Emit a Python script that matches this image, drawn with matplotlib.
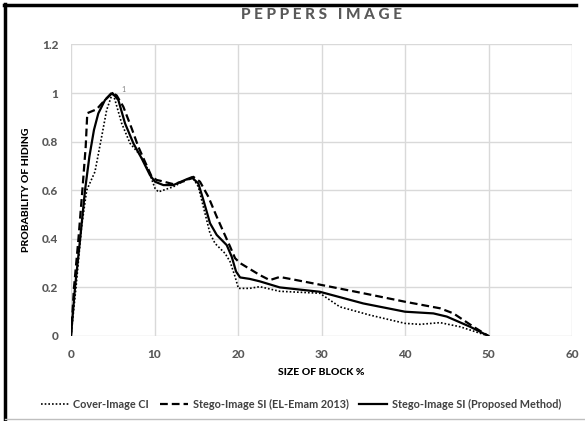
import matplotlib
matplotlib.use("Agg")
import matplotlib.pyplot as plt
from matplotlib.lines import Line2D

plt.rcParams['font.family'] = ['Lato', 'DejaVu Sans']

# ---- data ----
cover_x = [0, 0.6, 1.27, 1.88, 2.87, 3.67, 4.27, 4.87, 5.0, 5.27, 6.07, 7.07, 8.26, 9.26,
           10.06, 10.46, 12.25, 13.8, 14.65, 15.25, 15.85, 16.65, 17.25, 18.45, 19.05,
           19.65, 20.05, 21.4, 22.6, 25, 27.4, 29.8, 32.2, 35.8, 40, 41.8, 44.2, 46.6, 50]
cover_y = [0, 0.2, 0.45, 0.6, 0.676, 0.82, 0.93, 0.99, 1.0, 0.971, 0.875, 0.793, 0.745, 0.683,
           0.608, 0.593, 0.614, 0.643, 0.648, 0.614, 0.532, 0.422, 0.381, 0.34, 0.306,
           0.244, 0.196, 0.196, 0.203, 0.184, 0.18, 0.176, 0.12, 0.086, 0.052, 0.048, 0.055, 0.038, 0]

elemam_x = [0, 0.36, 0.88, 1.36, 1.76, 1.95, 3.07, 3.87, 4.8, 5.0, 5.47, 6.26, 7.26, 8.06,
            8.86, 9.66, 10.26, 10.66, 12.25, 13.85, 14.65, 15.45, 16.45, 17.45, 18.25,
            19.05, 19.65, 20.25, 22.6, 23.8, 25, 27, 30, 35, 40, 44.2, 45.8, 48.2, 50]
elemam_y = [0, 0.2, 0.395, 0.6, 0.779, 0.917, 0.933, 0.964, 0.998, 1.0, 0.99, 0.944, 0.855, 0.779,
            0.717, 0.656, 0.642, 0.639, 0.625, 0.64, 0.655, 0.635, 0.573, 0.491, 0.429,
            0.368, 0.32, 0.3, 0.251, 0.23, 0.243, 0.23, 0.21, 0.176, 0.141, 0.114, 0.093, 0.038, 0]

proposed_x = [0, 0.48, 1.08, 1.68, 2.2, 2.75, 3.27, 4.07, 4.95, 5.67, 6.47, 7.47, 8.46, 9.46,
              10.06, 11.06, 12.25, 13.85, 14.45, 15.25, 15.85, 16.65, 17.45, 18.65, 19.25,
              19.77, 20.25, 21.4, 22.6, 25, 29.8, 35, 40, 43.4, 45, 47.8, 50]
proposed_y = [0, 0.2, 0.395, 0.6, 0.738, 0.848, 0.916, 0.971, 1.0, 0.971, 0.875, 0.793, 0.731, 0.662,
              0.635, 0.621, 0.621, 0.645, 0.653, 0.628, 0.56, 0.464, 0.416, 0.374, 0.326,
              0.265, 0.241, 0.235, 0.225, 0.2, 0.182, 0.134, 0.1, 0.093, 0.08, 0.038, 0]

series_labels = ["Cover-Image CI", "Stego-Image SI (EL-Emam 2013)", "Stego-Image SI (Proposed Method)"]
x_ticks = [0, 10, 20, 30, 40, 50, 60]
y_ticks = [0, 0.2, 0.4, 0.6, 0.8, 1, 1.2]
y_tick_labels = ["0", "0.2", "0.4", "0.6", "0.8", "1", "1.2"]

W, H = 585, 421
fig = plt.figure(figsize=(W / 100, H / 100), dpi=100)
ax = fig.add_axes([71 / W, 1 - 336 / H, (572 - 71) / W, (336 - 44.4) / H])

dot_style = (0, (1, 1.2))
dash_style = (0, (3.5, 1.8))
ax.plot(cover_x, cover_y, color='black', linestyle=dot_style, linewidth=1.2, label=series_labels[0])
ax.plot(elemam_x, elemam_y, color='black', linestyle=dash_style, linewidth=1.6, label=series_labels[1])
ax.plot(proposed_x, proposed_y, color='black', linestyle='-', linewidth=1.6, label=series_labels[2])

ax.text(6.0, 1.0, "1", fontsize=5, color='#7f7f7f', va='bottom', ha='left')

ax.set_xlim(0, 60)
ax.set_ylim(0, 1.2)
ax.set_xticks(x_ticks)
ax.set_yticks(y_ticks)
ax.set_yticklabels(y_tick_labels)
ax.grid(True, color='#d9d9d9', linewidth=1.0)
ax.set_axisbelow(True)
for s in ax.spines.values():
    s.set_visible(False)
ax.tick_params(length=0, labelsize=8.5, labelcolor='#595959', pad=9)
for lab in ax.get_xticklabels() + ax.get_yticklabels():
    lab.set_fontweight('black')

ax.set_xlabel("SIZE OF BLOCK %", fontsize=7.5, fontweight='black', color='black', labelpad=6)
ax.set_ylabel("PROBABILITY OF HIDING", fontsize=7.5, fontweight='black', color='black', labelpad=8)

fig.text(321.5 / W, 1 - 15 / H, "P E P P E R S   I M A G E", ha='center', va='center',
         fontsize=11, fontweight='black', color='#595959')

handles = [Line2D([], [], color='black', linestyle=dot_style, linewidth=1.2),
           Line2D([], [], color='black', linestyle=dash_style, linewidth=1.6),
           Line2D([], [], color='black', linestyle='-', linewidth=1.6)]
leg = fig.legend(handles, series_labels, loc='center', bbox_to_anchor=(301 / W, 1 - 404 / H),
                 ncol=3, frameon=False, fontsize=7.8, handlelength=2.6, handletextpad=0.4,
                 columnspacing=1.0)
for t in leg.get_texts():
    t.set_color('#404040')
    t.set_fontweight('bold')

# outer frame
fig.add_artist(Line2D([4 / W, 576 / W], [1 - 5 / H, 1 - 5 / H], color='black', linewidth=2.5))
fig.add_artist(Line2D([5 / W, 5 / W], [1 - 4 / H, 0], color='black', linewidth=2.5))
fig.add_artist(Line2D([5 / W, 1], [1 - 419 / H, 1 - 419 / H], color='#bfbfbf', linewidth=1))

fig.savefig("out.png", dpi=100)
